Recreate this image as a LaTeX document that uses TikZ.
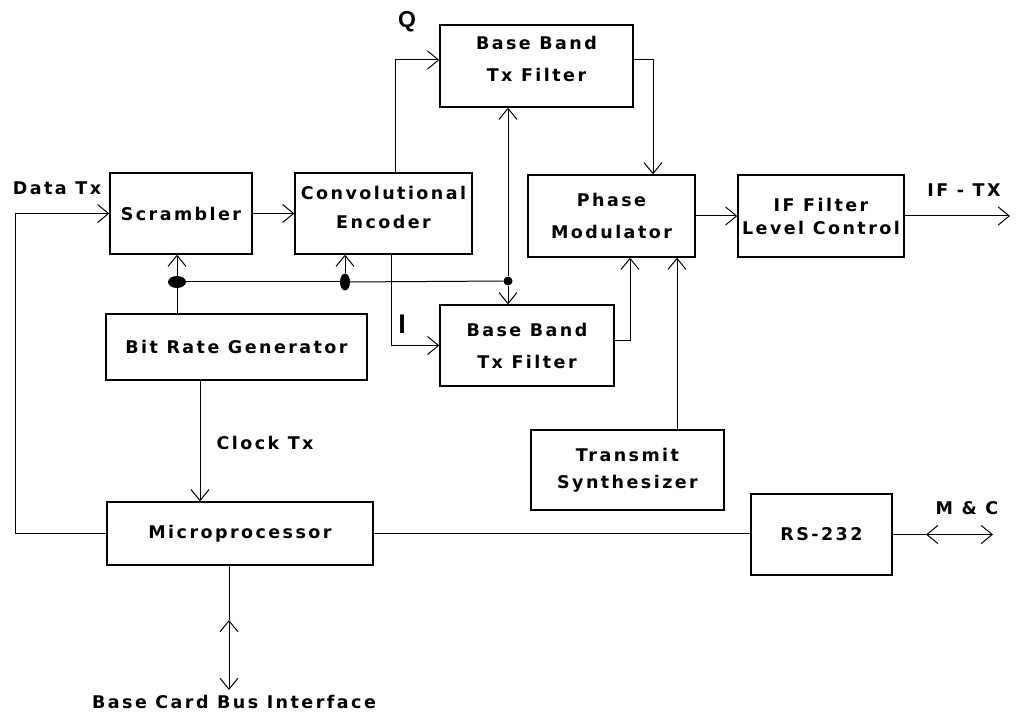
\documentclass[tikz,border=0pt]{standalone}
\usepackage{fontspec}
\setmainfont{Liberation Sans}
\newfontfamily\lblfont[LetterSpace=14]{DejaVu Sans}
\usetikzlibrary{arrows.meta,shapes.geometric}
\begin{document}
\begin{tikzpicture}[x=1pt,y=-1pt,
  box/.style={draw, line width=1.3pt, inner sep=0pt, align=center,
    font=\lblfont\bfseries\fontsize{17.5}{30}\selectfont},
  skip/.style={font=\lblfont\bfseries\fontsize{17.5}{#1}\selectfont},
  lbl/.style={inner sep=0pt, font=\lblfont\bfseries\fontsize{17.5}{20}\selectfont},
  ln/.style={line width=1pt},
  arr/.style={ln, -{Straight Barb[length=11pt,width=18pt,line width=1pt]}},
  darr/.style={ln, {Straight Barb[length=11pt,width=18pt,line width=1pt]}-{Straight Barb[length=11pt,width=18pt,line width=1pt]}},
  blob/.style={ellipse, fill, inner sep=0pt}
]
\useasboundingbox (0,0) rectangle (1026,714);

% boxes
\node[box, minimum width=142pt, minimum height=81pt] (scr) at (181,213.5) {Scrambler};
\node[box, minimum width=177pt, minimum height=81pt, skip=29pt] (conv) at (383.5,213.5) {Convolutional\\Encoder\\[-17pt]\mbox{}};
\node[box, minimum width=193pt, minimum height=82pt, skip=32pt] (bbq) at (536.5,66) {Base Band\\Tx Filter\\[-18pt]\mbox{}};
\node[box, minimum width=174pt, minimum height=81pt, skip=32pt] (bbi) at (527,345.5) {Base Band\\Tx Filter};
\node[box, minimum width=167pt, minimum height=82pt, skip=32pt] (pm) at (611.5,216) {Phase\\Modulator};
\node[box, minimum width=166pt, minimum height=82pt, skip=23pt] (iff) at (821,216) {IF Filter\\Level Control};
\node[box, minimum width=261pt, minimum height=66pt] (brg) at (236.5,347) {Bit Rate Generator};
\node[box, minimum width=193pt, minimum height=80pt, skip=27pt] (ts) at (627.5,470) {Transmit\\Synthesizer};
\node[box, minimum width=266pt, minimum height=63pt] (mp) at (240,533.5) {Microprocessor};
\node[box, minimum width=141pt, minimum height=81pt] (rs) at (821.5,534.5) {RS-232};

% junction dots
\node[blob, minimum width=18pt, minimum height=12pt] (d1) at (177,282) {};
\node[blob, minimum width=10pt, minimum height=17pt] (d2) at (345,282) {};
\node[blob, minimum width=9pt, minimum height=9pt] (d3) at (508,281) {};

% free-end coordinates
\coordinate (fl) at (15,533.5);
\coordinate (ifout) at (1010,216);
\coordinate (mc1) at (926,534.5);
\coordinate (mc2) at (993,534.5);
\coordinate (b1) at (229,620);
\coordinate (b2) at (229,690);

% labels
\node[lbl] (ldata) at (57,188) {Data Tx};
\node[inner sep=0pt, font=\bfseries\fontsize{23}{23}\selectfont] (lq) at (407,22) {Q};
\node[inner sep=0pt, font=\bfseries\fontsize{27}{27}\selectfont] (li) at (402,324) {I};
\node[lbl] (lclk) at (265,443) {Clock Tx};
\node[lbl] (lif) at (964,190) {IF - TX};
\node[lbl] (lmc) at (967,508) {M \& C};
\node[lbl] (lbus) at (234,702) {Base Card Bus Interface};

% connectors
\draw[arr] (mp.west) -- (fl) |- (scr.west);
\draw[arr] (scr.east) -- (conv.west);
\draw[arr] ([xshift=11.5pt]conv.north) |- ([yshift=6pt]bbq.west);
\draw[arr] ([xshift=7.5pt]conv.south) |- (bbi.west);
\draw[arr] ([yshift=6pt]bbq.east) -| ([xshift=41.5pt]pm.north);
\draw[arr] ([yshift=5pt]bbi.east) -| ([xshift=18.5pt]pm.south);
\draw[arr] ([xshift=49.5pt]ts.north) -- ([xshift=65.5pt]pm.south);
\draw[arr] (pm.east) -- (iff.west);
\draw[arr] (iff.east) -- (ifout);

\draw[ln] (brg.north -| d1) -- (d1);
\draw[arr] (d1) -- (d1 |- scr.south);
\draw[ln] (d1) -- (d2);
\draw[ln] (d2) -- (d3);
\draw[arr] (d2) -- (d2 |- conv.south);
\draw[arr] (d3) -- (d3 |- bbq.south);
\draw[arr] (d3) -- (d3 |- bbi.north);

\draw[arr] ([xshift=-36.5pt]brg.south) -- ([xshift=-40pt]mp.north);
\draw[ln] (mp.east) -- (mp.east -| rs.west);
\draw[ln] (rs.east) -- (mc1);
\draw[darr] (mc1) -- (mc2);
\draw[ln] ([xshift=-11pt]mp.south) -- (b1);
\draw[darr] (b1) -- (b2);
\end{tikzpicture}
\end{document}
